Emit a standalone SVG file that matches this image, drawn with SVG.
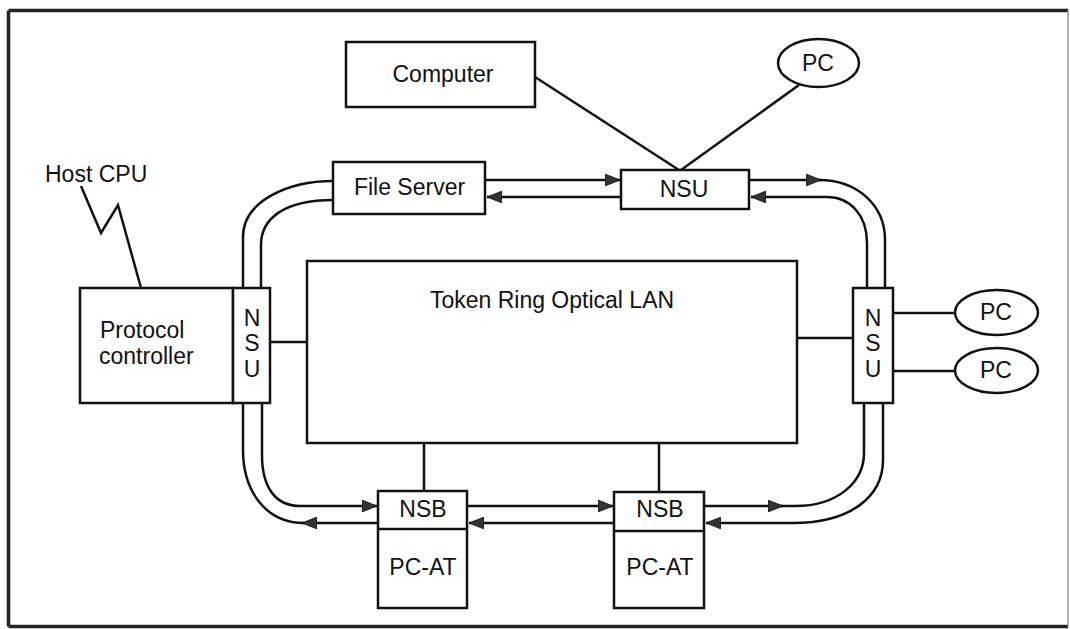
<svg xmlns="http://www.w3.org/2000/svg" width="1070" height="629" viewBox="0 0 1070 629">
<defs>
<style>
.box{fill:#fff;stroke:#111;stroke-width:2.5}
.ln{fill:none;stroke:#111;stroke-width:2.5}
.t{font-family:"Liberation Sans",Arial,sans-serif;font-size:23px;fill:#111}
.c{text-anchor:middle}
</style>
<marker id="ah" markerUnits="userSpaceOnUse" markerWidth="16" markerHeight="12" refX="15" refY="6" orient="auto">
<path d="M0,0 L15,6 L0,12 z" fill="#333" stroke="#111" stroke-width="0.8"/>
</marker>
</defs>
<rect width="1070" height="629" fill="#fff"/>
<g id="frame">
<path d="M8.5,10.5 L1068,10.5 M8.5,10.5 L8.5,626.5 M8.5,626.5 L1068,626.5" fill="none" stroke="#222" stroke-width="3.5"/>
<path d="M1068,10.5 L1068,626.5" fill="none" stroke="#999" stroke-width="1.5"/>
</g>
<g id="connectors">
<path class="ln" d="M81,186 L101,233 L118,205 L141,288"/>
<path class="ln" d="M535,77 L679,170"/>
<path class="ln" d="M799,85 L681,170"/>
<path class="ln" d="M485,180 L620,180" marker-end="url(#ah)"/>
<path class="ln" d="M621,197 L487,197" marker-end="url(#ah)"/>
<path class="ln" d="M749,180 L821,180" marker-end="url(#ah)"/>
<path class="ln" d="M819,180 C857,180 885,205 885,240 L885,288"/>
<path class="ln" d="M867,288 L867,243 C867,215 850,197 827,197 L751,197" marker-end="url(#ah)"/>
<path class="ln" d="M883,403 L883,460 C883,497 850,523 793,523 L706,523" marker-end="url(#ah)"/>
<path class="ln" d="M704,506 L783,506" marker-end="url(#ah)"/>
<path class="ln" d="M781,506 L795,506 C838,506 864,482 864,453 L864,403"/>
<path class="ln" d="M467,506 L613,506" marker-end="url(#ah)"/>
<path class="ln" d="M614,523 L469,523" marker-end="url(#ah)"/>
<path class="ln" d="M378,523 L302,523" marker-end="url(#ah)"/>
<path class="ln" d="M304,523 C265,523 243,490 243,450 L243,403"/>
<path class="ln" d="M262,403 L262,455 C262,488 276,506 300,506 L377,506" marker-end="url(#ah)"/>
<path class="ln" d="M243,288 L243,237 C243,200 290,181 333,181"/>
<path class="ln" d="M261,288 L261,245 C261,218 285,200 333,200"/>
<path class="ln" d="M270,342 L307,342"/>
<path class="ln" d="M797,338 L853,338"/>
<path class="ln" d="M893,313 L955,313"/>
<path class="ln" d="M893,371 L955,371"/>
<path class="ln" d="M424,443 L424,491"/>
<path class="ln" d="M659,443 L659,492"/>
</g>
<g id="computer">
<rect class="box" x="346" y="42" width="189" height="65"/>
<text class="t c" x="443" y="82">Computer</text>
</g>
<g id="pc-top">
<ellipse class="box" cx="818.5" cy="63" rx="40.5" ry="24"/>
<text class="t c" x="818" y="71">PC</text>
</g>
<g id="file-server">
<rect class="box" x="333" y="162" width="152" height="52"/>
<text class="t c" x="409.5" y="195">File Server</text>
</g>
<g id="nsu-top">
<rect class="box" x="621" y="170" width="128" height="39"/>
<text class="t c" x="684" y="197">NSU</text>
</g>
<g id="host-cpu">
<text class="t" x="45" y="182">Host CPU</text>
</g>
<g id="protocol-controller">
<rect class="box" x="80" y="288" width="153" height="115"/>
<text class="t" x="100" y="338">Protocol</text>
<text class="t" x="99" y="364">controller</text>
</g>
<g id="nsu-left">
<rect class="box" x="233" y="288" width="37" height="115"/>
<text class="t c" x="252" y="326">N</text>
<text class="t c" x="252" y="351">S</text>
<text class="t c" x="252" y="377">U</text>
</g>
<g id="token-ring-lan">
<rect class="box" x="307" y="261" width="490" height="182"/>
<text class="t c" x="552" y="308">Token Ring Optical LAN</text>
</g>
<g id="nsu-right">
<rect class="box" x="853" y="288" width="40" height="115"/>
<text class="t c" x="873" y="326">N</text>
<text class="t c" x="873" y="351">S</text>
<text class="t c" x="873" y="377">U</text>
</g>
<g id="pc-right-1">
<ellipse class="box" cx="996.5" cy="312.5" rx="41.5" ry="22.5"/>
<text class="t c" x="996" y="320">PC</text>
</g>
<g id="pc-right-2">
<ellipse class="box" cx="996.5" cy="370.5" rx="41.5" ry="22.5"/>
<text class="t c" x="996" y="378">PC</text>
</g>
<g id="nsb-left">
<rect class="box" x="378" y="491" width="89" height="117"/>
<line class="ln" x1="378" y1="529" x2="467" y2="529"/>
<text class="t c" x="423" y="517">NSB</text>
<text class="t c" x="423" y="575">PC-AT</text>
</g>
<g id="nsb-right">
<rect class="box" x="614" y="492" width="90" height="116"/>
<line class="ln" x1="614" y1="531" x2="704" y2="531"/>
<text class="t c" x="660" y="517">NSB</text>
<text class="t c" x="660" y="575">PC-AT</text>
</g>
</svg>
